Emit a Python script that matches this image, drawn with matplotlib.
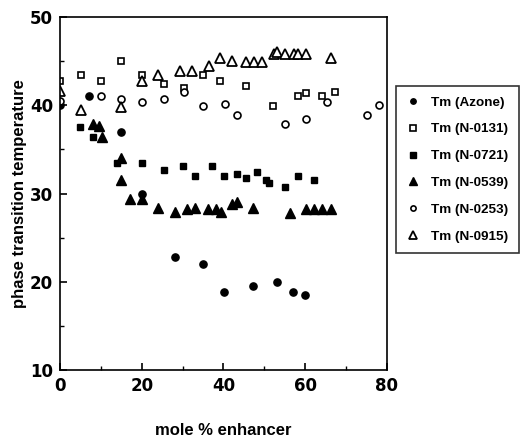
import matplotlib
matplotlib.use("Agg")
import matplotlib.pyplot as plt
from matplotlib.ticker import MultipleLocator

# Tm (Azone)
azone_x = [0, 7.2, 14.8, 20.0, 28.1, 35.0, 40.1, 47.3, 53.0, 57.1, 60.0]
azone_y = [40.0, 41.0, 37.0, 30.0, 22.8, 22.0, 18.9, 19.5, 20.0, 18.9, 18.5]

# Tm (N-0131)
n0131_x = [0, 5.1, 10.0, 14.9, 20.0, 25.4, 30.3, 35.0, 39.2, 45.6, 52.2, 58.3, 60.1, 64.1, 67.3]
n0131_y = [42.8, 43.4, 42.8, 45.0, 43.4, 42.4, 42.0, 43.4, 42.8, 42.2, 39.9, 41.0, 41.4, 41.1, 41.5]

# Tm (N-0721)
n0721_x = [5.0, 8.0, 14.0, 20.1, 25.4, 30.1, 33.0, 37.3, 40.2, 43.2, 45.5, 48.3, 50.3, 51.2, 55.1, 58.3, 62.1]
n0721_y = [37.6, 36.4, 33.5, 33.5, 32.7, 33.1, 32.0, 33.1, 32.0, 32.2, 31.8, 32.5, 31.5, 31.2, 30.7, 32.0, 31.5]

# Tm (N-0539)
n0539_x = [8.1, 9.5, 10.2, 15.0, 14.8, 17.1, 20.0, 23.9, 28.1, 31.0, 33.0, 36.3, 38.1, 39.3,
           42.1, 43.2, 47.3, 56.2, 60.1, 62.1, 64.1, 66.4]
n0539_y = [37.9, 37.7, 36.4, 34.0, 31.5, 29.4, 29.4, 28.4, 27.9, 28.2, 28.4, 28.2, 28.2, 27.9,
           28.8, 29.1, 28.4, 27.8, 28.3, 28.3, 28.3, 28.3]

# Tm (N-0253)
n0253_x = [0, 10.0, 14.8, 20.1, 25.4, 30.3, 35.0, 40.3, 43.3, 55.1, 60.1, 65.4, 75.1, 78.0]
n0253_y = [40.5, 41.0, 40.7, 40.4, 40.7, 41.5, 39.9, 40.1, 38.9, 37.9, 38.4, 40.4, 38.9, 40.0]

# Tm (N-0915)
n0915_x = [0, 5.1, 14.8, 20.1, 24.0, 29.3, 32.2, 36.4, 39.1, 42.2, 45.6, 47.4, 49.4,
           52.3, 53.2, 55.0, 57.3, 58.3, 60.1, 66.4]
n0915_y = [41.6, 39.5, 39.8, 42.8, 43.4, 43.9, 43.9, 44.4, 45.4, 45.0, 44.9, 44.9, 44.9,
           45.85, 46.0, 45.85, 45.8, 45.8, 45.8, 45.4]

fig = plt.figure(figsize=(5.27, 4.37), dpi=100)
ax = fig.add_axes([0.114, 0.153, 0.620, 0.808])

h1, = ax.plot(azone_x, azone_y, "o", color="black", ms=5.2, ls="none", label="Tm (Azone)")
h2, = ax.plot(n0131_x, n0131_y, "s", mfc="white", mec="black", mew=1.2, ms=5, ls="none",
              label="Tm (N-0131)")
h3, = ax.plot(n0721_x, n0721_y, "s", color="black", ms=5, ls="none", label="Tm (N-0721)")
h4, = ax.plot(n0539_x, n0539_y, "^", color="black", ms=7, ls="none", label="Tm (N-0539)")
h5, = ax.plot(n0253_x, n0253_y, "o", mfc="white", mec="black", mew=1.2, ms=5, ls="none",
              label="Tm (N-0253)")
h6, = ax.plot(n0915_x, n0915_y, "^", mfc="white", mec="black", mew=1.3, ms=7, ls="none",
              label="Tm (N-0915)")

ax.set_xlim(0, 80)
ax.set_ylim(10, 50)
ax.xaxis.set_major_locator(MultipleLocator(20))
ax.xaxis.set_minor_locator(MultipleLocator(10))
ax.yaxis.set_major_locator(MultipleLocator(10))
ax.yaxis.set_minor_locator(MultipleLocator(5))
ax.tick_params(which="both", direction="in", top=False, right=False)
ax.tick_params(which="major", length=5, width=1.2)
ax.tick_params(which="minor", length=3, width=1)
ax.tick_params(axis="x", labelsize=12, pad=5)
ax.tick_params(axis="y", labelsize=12, pad=5)
for lab in ax.get_xticklabels() + ax.get_yticklabels():
    lab.set_fontweight("bold")
    lab.set_family("DejaVu Sans")
for s in ax.spines.values():
    s.set_linewidth(1.2)

ax.set_xlabel("mole % enhancer", fontsize=12, fontweight="bold", family="Liberation Sans",
              labelpad=20)
ax.set_ylabel("phase transition temperature", fontsize=12, fontweight="bold",
              family="Liberation Sans", labelpad=2)

leg = fig.legend(handles=[h1, h2, h3, h4, h5, h6], loc="upper left",
                 bbox_to_anchor=(0.751, 0.803), frameon=True, fancybox=False,
                 edgecolor="black", borderpad=0.75, labelspacing=1.07, handlelength=1.0,
                 handletextpad=0.9, borderaxespad=0, markerscale=0.75,
                 prop={"family": "Liberation Sans", "weight": "bold", "size": 9.7})
leg.get_frame().set_linewidth(1.2)

fig.savefig("out.png", dpi=100)
